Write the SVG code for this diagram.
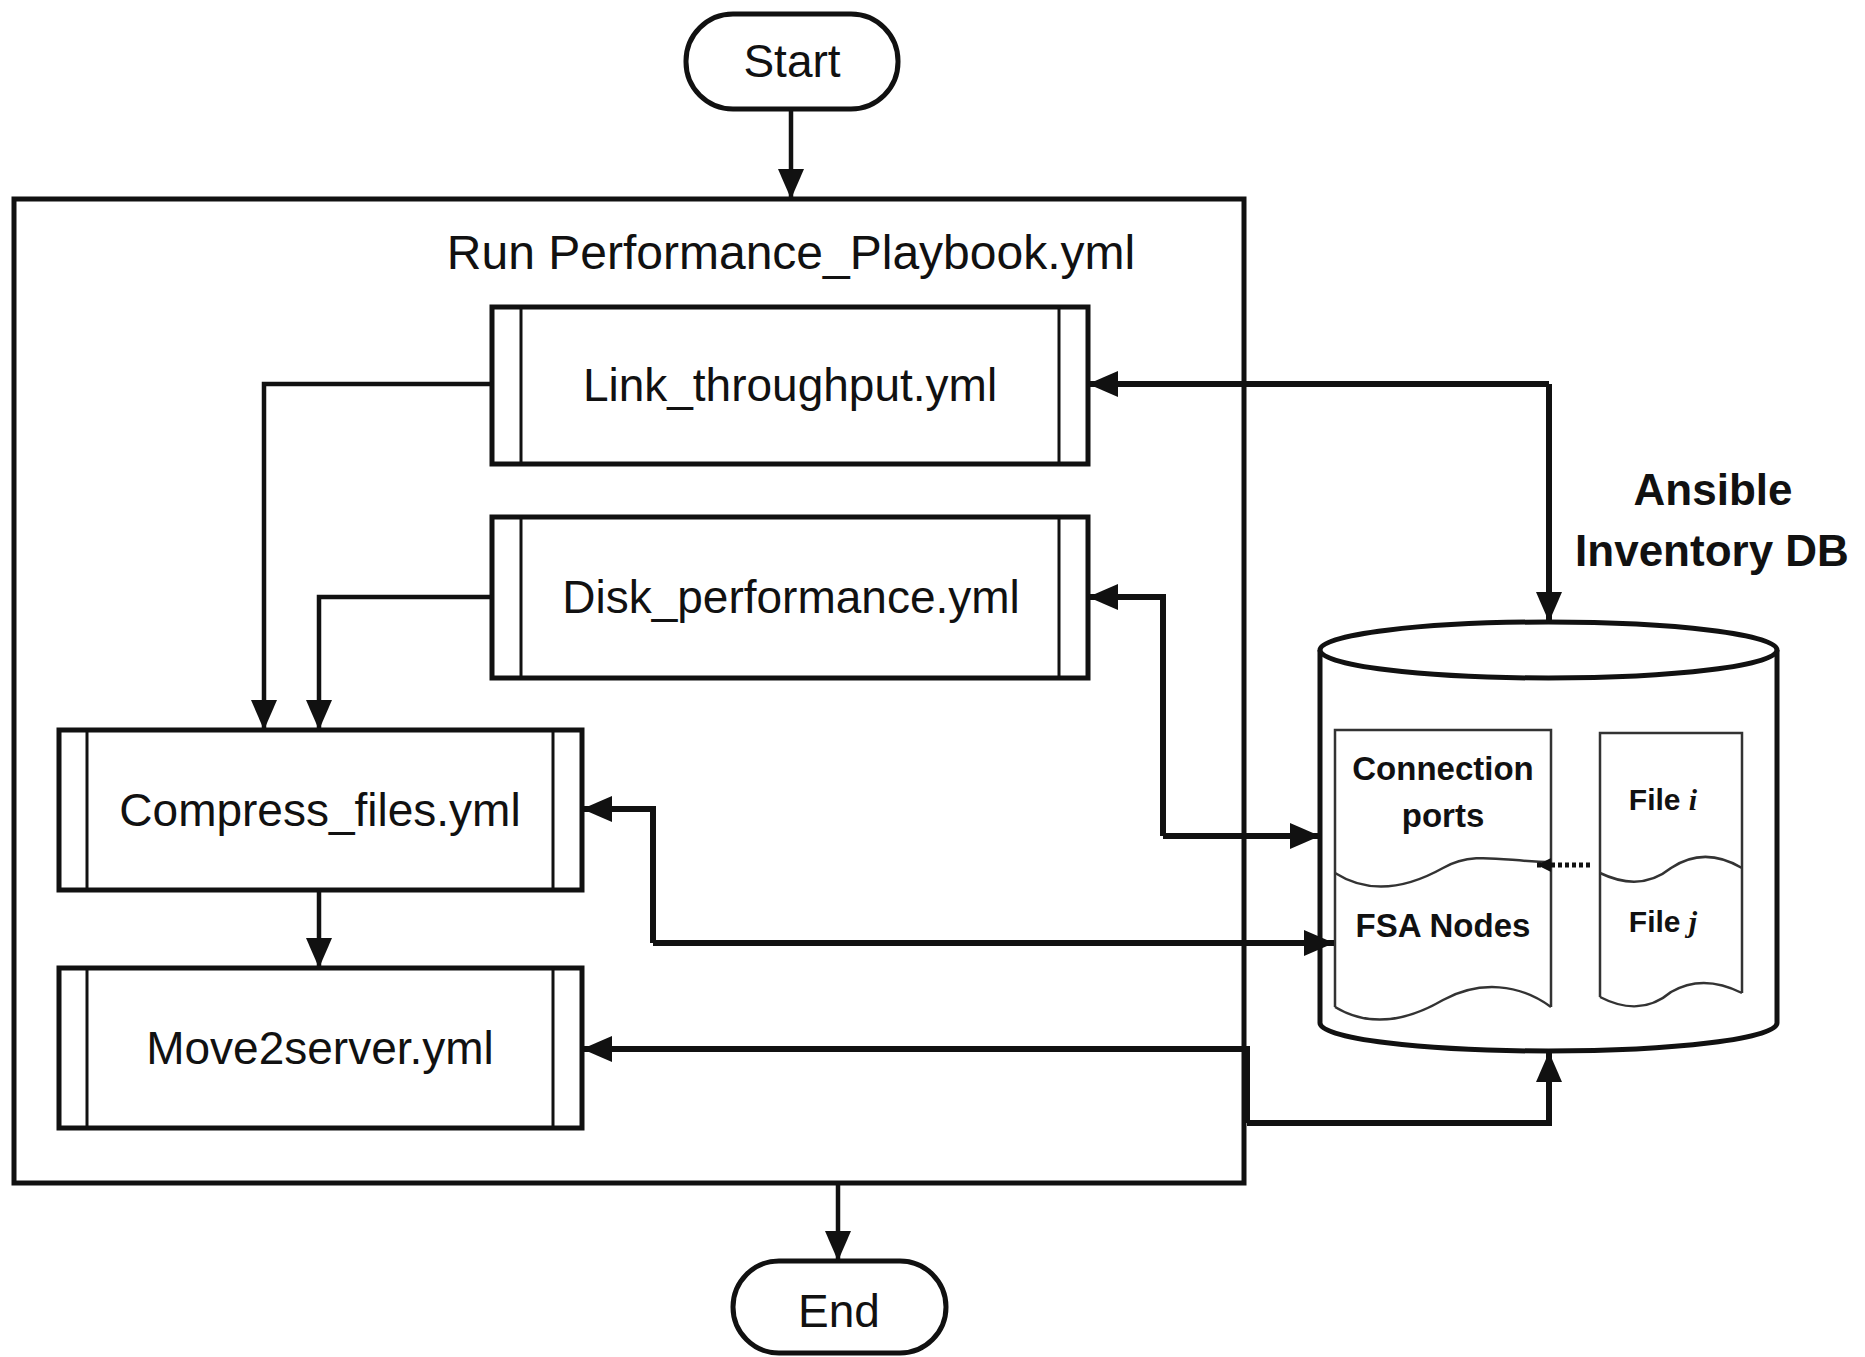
<svg xmlns="http://www.w3.org/2000/svg" width="1865" height="1357" viewBox="0 0 1865 1357">
<defs>
<style>
.box{fill:#fff;stroke:#111;stroke-width:5}
.bar{stroke:#111;stroke-width:3}
.lbl{font-family:"Liberation Sans",Arial,sans-serif;font-size:46px;fill:#111;text-anchor:middle}
.ttl{font-size:48px}
.blbl{font-family:"Liberation Sans",Arial,sans-serif;font-weight:bold;fill:#111;text-anchor:middle}
.conn{fill:none;stroke:#111;stroke-width:6;stroke-linejoin:miter}
.thin{fill:none;stroke:#111;stroke-width:4.5}
.doc{fill:none;stroke:#333;stroke-width:2.5}
</style>
<marker id="ah" markerUnits="userSpaceOnUse" markerWidth="32" markerHeight="28" refX="30" refY="13" orient="auto">
<path d="M0,0 L30,13 L0,26 z" fill="#111"/>
</marker>
<marker id="ahs" markerUnits="userSpaceOnUse" markerWidth="16" markerHeight="14" refX="14" refY="7" orient="auto">
<path d="M0,0 L14,7 L0,14 z" fill="#111"/>
</marker>
</defs>
<rect width="1865" height="1357" fill="#fff"/>

<g id="container">
<rect x="14" y="199" width="1230" height="984" fill="none" stroke="#111" stroke-width="5"/>
<text class="lbl ttl" x="791" y="269">Run Performance_Playbook.yml</text>
</g>

<g id="start">
<rect x="686" y="14" width="212" height="95" rx="47" ry="47" class="box"/>
<text class="lbl" x="792" y="77">Start</text>
</g>

<g id="end">
<rect x="733" y="1261" width="213" height="92" rx="46" ry="46" class="box"/>
<text class="lbl" x="839" y="1327">End</text>
</g>

<g id="link">
<rect x="492" y="307" width="596" height="157" class="box"/>
<line x1="521" y1="307" x2="521" y2="464" class="bar"/>
<line x1="1059" y1="307" x2="1059" y2="464" class="bar"/>
<text class="lbl" x="790" y="401">Link_throughput.yml</text>
</g>

<g id="disk">
<rect x="492" y="517" width="596" height="161" class="box"/>
<line x1="521" y1="517" x2="521" y2="678" class="bar"/>
<line x1="1059" y1="517" x2="1059" y2="678" class="bar"/>
<text class="lbl" x="791" y="613">Disk_performance.yml</text>
</g>

<g id="compress">
<rect x="59" y="730" width="523" height="160" class="box"/>
<line x1="87" y1="730" x2="87" y2="890" class="bar"/>
<line x1="553" y1="730" x2="553" y2="890" class="bar"/>
<text class="lbl" x="320" y="826">Compress_files.yml</text>
</g>

<g id="move">
<rect x="59" y="968" width="523" height="160" class="box"/>
<line x1="87" y1="968" x2="87" y2="1128" class="bar"/>
<line x1="553" y1="968" x2="553" y2="1128" class="bar"/>
<text class="lbl" x="320" y="1064">Move2server.yml</text>
</g>

<g id="db">
<text class="blbl" x="1713" y="505" font-size="44">Ansible</text>
<text class="blbl" x="1712" y="566" font-size="44">Inventory DB</text>
<path d="M1320,650 V1023 A228.5,28 0 0 0 1777,1023 V650" fill="#fff" stroke="#111" stroke-width="5"/>
<ellipse cx="1548.5" cy="650" rx="228.5" ry="28" fill="#fff" stroke="#111" stroke-width="5"/>
<g id="doc-left">
<path class="doc" d="M1335,1007 V730 H1551 V1007"/>
<path class="doc" d="M1335,1007 C1365,1025 1400,1025 1443,1000 C1480,980 1520,984 1551,1007"/>
<path class="doc" d="M1335,873 C1365,892 1400,892 1443,868 C1475,850 1505,862 1551,862"/>
<text class="blbl" x="1443" y="780" font-size="33">Connection</text>
<text class="blbl" x="1443" y="827" font-size="33">ports</text>
<text class="blbl" x="1443" y="937" font-size="33">FSA Nodes</text>
</g>
<g id="doc-right">
<path class="doc" d="M1600,997 V733 H1742 V993"/>
<path class="doc" d="M1600,873 C1625,885 1650,885 1671,868 C1695,852 1720,855 1742,868"/>
<path class="doc" d="M1600,997 C1625,1010 1650,1010 1671,992 C1695,978 1720,982 1742,993"/>
<text class="blbl" x="1663" y="810" font-size="30">File <tspan font-family="Liberation Serif" font-style="italic">i</tspan></text>
<text class="blbl" x="1663" y="932" font-size="30">File <tspan font-family="Liberation Serif" font-style="italic">j</tspan></text>
</g>
</g>

<g id="connectors">
<line class="thin" x1="791" y1="109" x2="791" y2="199" marker-end="url(#ah)"/>
<line class="thin" x1="838" y1="1183" x2="838" y2="1261" marker-end="url(#ah)"/>
<polyline class="thin" points="492,384 264,384 264,730" marker-end="url(#ah)"/>
<polyline class="thin" points="492,597 319,597 319,730" marker-end="url(#ah)"/>
<line class="thin" x1="319" y1="890" x2="319" y2="968" marker-end="url(#ah)"/>
<polyline class="conn" points="1549,384 1088,384" marker-end="url(#ah)"/>
<polyline class="conn" points="1549,384 1549,622" marker-end="url(#ah)"/>
<polyline class="conn" points="1163,836 1163,597 1088,597" marker-end="url(#ah)"/>
<polyline class="conn" points="1163,836 1320,836" marker-end="url(#ah)"/>
<polyline class="conn" points="653,943 653,809 582,809" marker-end="url(#ah)"/>
<polyline class="conn" points="653,943 1334,943" marker-end="url(#ah)"/>
<polyline class="conn" points="1247,1123 1247,1049 582,1049" marker-end="url(#ah)"/>
<polyline class="conn" points="1247,1123 1549,1123 1549,1052" marker-end="url(#ah)"/>
<line x1="1590" y1="865" x2="1537" y2="865" stroke="#111" stroke-width="5" stroke-dasharray="4 3" marker-end="url(#ahs)"/>
</g>
</svg>
